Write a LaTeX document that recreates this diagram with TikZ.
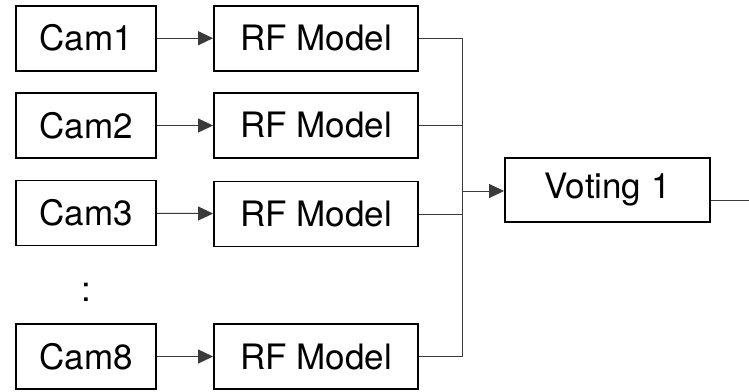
\documentclass[tikz,border=0pt]{standalone}
\usepackage{fontspec}
\setmainfont{TeX Gyre Heros}
\usetikzlibrary{arrows.meta}
\definecolor{linegray}{HTML}{3A3A3A}
\tikzset{
  box/.style={draw=black, line width=1.9pt, minimum height=65pt, inner sep=0pt, font=\fontsize{35}{40}\selectfont},
  cambox/.style={box, minimum width=140pt},
  rfbox/.style={box, minimum width=204pt},
  conn/.style={draw=linegray, line width=1pt},
  arr/.style={conn, -{Triangle[length=15pt,width=14pt]}}
}
\begin{document}
\begin{tikzpicture}[x=1pt,y=-1pt]
\useasboundingbox (0,0) rectangle (749,391);
\node[cambox] (c1) at (86,38.2) {Cam1};
\node[cambox] (c2) at (86,125.5) {Cam2};
\node[cambox] (c3) at (86,213) {Cam3};
\node[cambox] (c8) at (86,356.5) {Cam8};
\node[anchor=base, inner sep=0pt, font=\fontsize{35}{40}\selectfont] (dots) at (86,301) {:};
\node[rfbox] (r1) at (316,38.2) {RF Model};
\node[rfbox] (r2) at (316,125.5) {RF Model};
\node[rfbox] (r3) at (316,214) {RF Model};
\node[rfbox] (r8) at (316,356.5) {RF Model};
\node[box, minimum width=205pt, minimum height=64pt] (v) at (607.5,190) {Voting 1};
\coordinate (bus) at (462.7,191);
\coordinate (out) at (749,200.7);
\foreach \i in {1,2,3,8} {
  \draw[arr] (c\i) -- (r\i);
  \draw[conn] (r\i.east) -| (bus);
}
\draw[arr] (bus) -- (v.west |- bus);
\draw[conn] (v.east |- out) -- (out);
\end{tikzpicture}
\end{document}
